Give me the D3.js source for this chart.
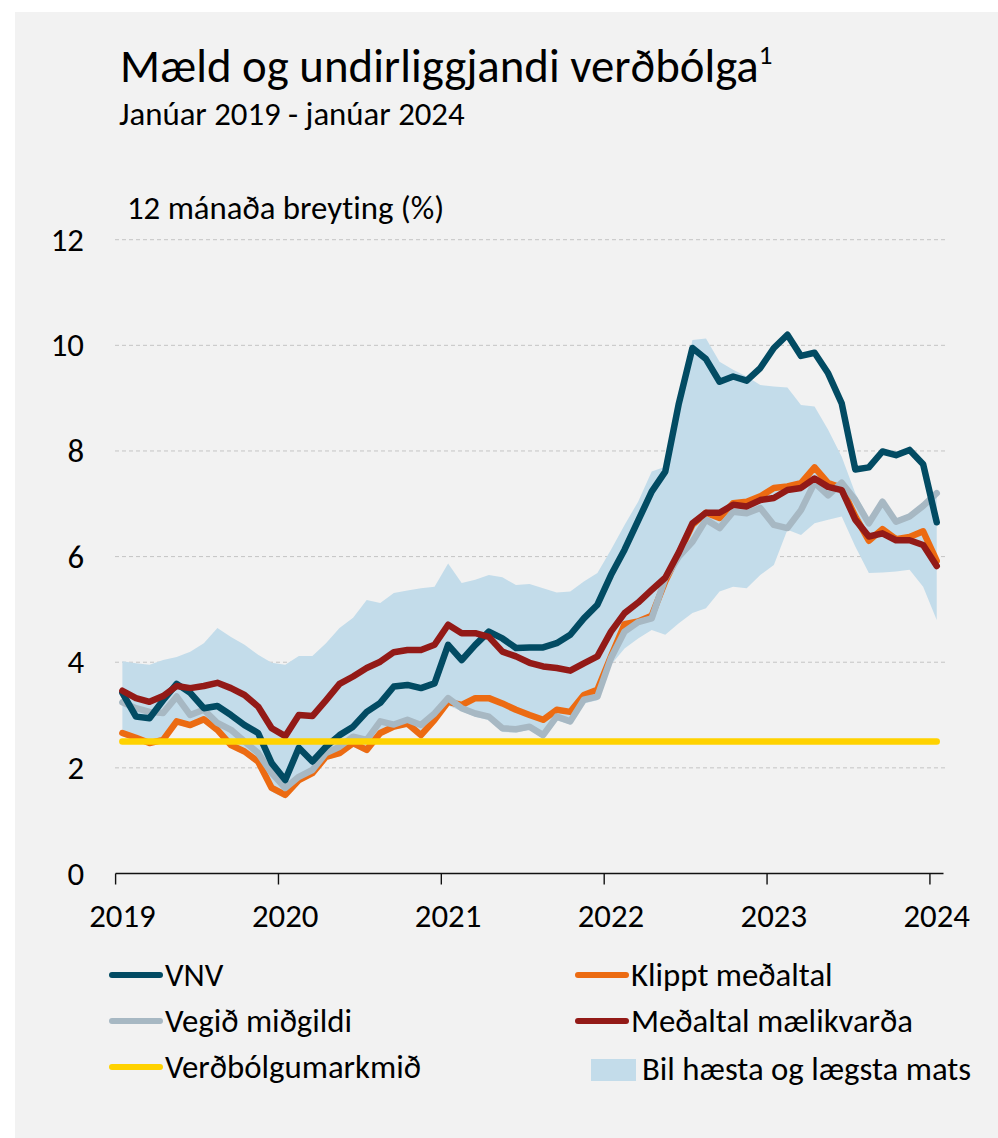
<!DOCTYPE html>
<html>
<head>
<meta charset="utf-8">
<script src="https://cdn.jsdelivr.net/npm/d3@7"></script>
<style>
  body { margin: 0; background: #ffffff; }
  svg { display: block; font-family: Carlito, Lato, sans-serif; font-variant-ligatures: none; }
</style>
</head>
<body>
<div id="chart"></div>
<script>
// monthly values, Jan 2019 - Jan 2024 (12 month change, %)
var months = d3.timeMonth.range(new Date(2019, 0, 1), new Date(2024, 1, 1)).map(function (d) {
    return d3.timeFormat("%Y-%m")(d);
});
var yearLabels = ["2019", "2020", "2021", "2022", "2023", "2024"];
var yTicks = [0, 2, 4, 6, 8, 10, 12];
var target = 2.5;

var vnv = [3.42, 2.97, 2.94, 3.28, 3.59, 3.42, 3.13, 3.17, 3.0, 2.81, 2.66, 2.09, 1.77, 2.38, 2.12, 2.40, 2.62, 2.78, 3.06, 3.23, 3.54,
    3.57, 3.51, 3.60, 4.33, 4.04, 4.33, 4.58, 4.45, 4.27, 4.28, 4.28, 4.36, 4.52, 4.83, 5.09, 5.65, 6.13, 6.68, 7.23, 7.61,
    8.9, 9.95, 9.74, 9.31, 9.41, 9.33, 9.57, 9.95, 10.2, 9.8, 9.86, 9.47, 8.9, 7.65, 7.69, 7.99, 7.92, 8.02, 7.75, 6.65];

var klippt = [2.66, 2.57, 2.47, 2.53, 2.88, 2.81, 2.92, 2.72, 2.43, 2.31, 2.12, 1.62, 1.49, 1.77, 1.9, 2.21, 2.28, 2.47, 2.34, 2.66, 2.78,
    2.84, 2.62, 2.91, 3.25, 3.19, 3.32, 3.32, 3.22, 3.10, 3.0, 2.91, 3.10, 3.06, 3.38, 3.48, 4.11, 4.72, 4.77, 4.88, 5.53,
    6.06, 6.6, 6.83, 6.73, 7.01, 7.04, 7.14, 7.30, 7.33, 7.39, 7.69, 7.39, 7.30, 6.76, 6.30, 6.52, 6.33, 6.37, 6.48, 5.92];

var vegid = [3.24, 3.13, 3.06, 3.04, 3.35, 3.0, 3.1, 2.85, 2.72, 2.5, 2.28, 1.9, 1.62, 1.83, 1.96, 2.28, 2.40, 2.59, 2.53, 2.88, 2.82,
    2.91, 2.81, 3.03, 3.32, 3.13, 3.03, 2.97, 2.75, 2.73, 2.78, 2.62, 2.97, 2.88, 3.29, 3.35, 4.08, 4.58, 4.76, 4.83, 5.59,
    6.0, 6.28, 6.70, 6.54, 6.85, 6.82, 6.92, 6.60, 6.54, 6.88, 7.40, 7.16, 7.40, 7.07, 6.63, 7.04, 6.66, 6.76, 6.96, 7.20];

var medaltal = [3.46, 3.32, 3.25, 3.36, 3.55, 3.51, 3.55, 3.61, 3.51, 3.38, 3.16, 2.75, 2.6, 3.0, 2.98, 3.28, 3.59, 3.73, 3.89, 4.01, 4.19,
    4.23, 4.23, 4.33, 4.71, 4.55, 4.55, 4.48, 4.2, 4.11, 3.99, 3.92, 3.89, 3.84, 3.98, 4.11, 4.58, 4.93, 5.13, 5.37, 5.6,
    6.08, 6.63, 6.83, 6.83, 6.98, 6.95, 7.07, 7.11, 7.26, 7.30, 7.48, 7.32, 7.26, 6.70, 6.38, 6.44, 6.31, 6.31, 6.22, 5.82];

var bandHigh = [4.02, 3.98, 3.95, 4.04, 4.1, 4.2, 4.36, 4.65, 4.48, 4.33, 4.14, 3.99, 3.95, 4.12, 4.12, 4.36, 4.65, 4.84, 5.18, 5.12, 5.31,
    5.36, 5.40, 5.43, 5.87, 5.50, 5.56, 5.65, 5.61, 5.46, 5.48, 5.40, 5.32, 5.34, 5.53, 5.69, 6.13, 6.6, 7.04, 7.61, 7.70,
    8.88, 10.1, 10.13, 9.69, 9.54, 9.41, 9.25, 9.22, 9.2, 8.87, 8.84, 8.40, 7.89, 7.2, 6.72, 7.08, 6.72, 6.8, 7.0, 7.24];

var bandLow = [2.6, 2.52, 2.42, 2.48, 2.82, 2.75, 2.85, 2.65, 2.38, 2.25, 2.05, 1.55, 1.42, 1.7, 1.85, 2.15, 2.22, 2.4, 2.28, 2.6, 2.72,
    2.78, 2.56, 2.85, 3.18, 3.07, 2.97, 2.9, 2.68, 2.67, 2.72, 2.55, 2.9, 2.82, 3.22, 3.28, 3.95, 4.26, 4.45, 4.61, 4.52,
    4.74, 4.93, 5.02, 5.34, 5.43, 5.40, 5.65, 5.84, 6.51, 6.41, 6.63, 6.70, 6.76, 6.19, 5.69, 5.70, 5.72, 5.75, 5.43, 4.80];

var colors = {
    vnv: "#024b63",
    klippt: "#ec6b12",
    vegid: "#a7b8c3",
    medaltal: "#931a17",
    target: "#ffd200",
    band: "#c3dcea"
};

var width = 998, height = 1138;
var fontSize = 32.8;

var svg = d3.select("#chart").append("svg")
    .attr("width", width)
    .attr("height", height);

svg.append("rect")
    .attr("x", 15).attr("y", 12)
    .attr("width", width - 15).attr("height", height - 12)
    .attr("fill", "#f2f2f2");

var x = d3.scaleBand().domain(months).range([115.6, 943.5]).padding(0);
var y = d3.scaleLinear().domain([0, 12]).range([873.5, 239.7]);
var cx = function (i) { return x(months[i]) + x.bandwidth() / 2; };

// titles
var title = svg.append("text")
    .attr("x", 120).attr("y", 82)
    .attr("font-size", 46.8).attr("fill", "#000")
    .text("Mæld og undirliggjandi verðbólga");
title.append("tspan")
    .attr("dy", -18).attr("font-size", 27)
    .text("1");

svg.append("text")
    .attr("x", 119).attr("y", 125)
    .attr("font-size", fontSize).attr("fill", "#000")
    .text("Janúar 2019 - janúar 2024");

svg.append("text")
    .attr("x", 127).attr("y", 219)
    .attr("font-size", fontSize).attr("fill", "#000")
    .text("12 mánaða breyting (%)");

// grid
svg.append("g").selectAll("line")
    .data(yTicks.filter(function (d) { return d > 0; }))
    .enter().append("line")
    .attr("x1", 115).attr("x2", 945)
    .attr("y1", function (d) { return y(d); })
    .attr("y2", function (d) { return y(d); })
    .attr("stroke", "#c4c4c4")
    .attr("stroke-width", 1)
    .attr("stroke-dasharray", "4,3");

// y labels
var yAxis = d3.axisLeft(y).tickValues(yTicks).tickSize(0).tickPadding(0);
var gy = svg.append("g").attr("transform", "translate(84,0)").call(yAxis);
gy.select(".domain").remove();
gy.selectAll("text")
    .attr("font-family", "Carlito, Lato, sans-serif")
    .attr("font-size", fontSize).attr("fill", "#000");

// band (highest / lowest estimate)
var area = d3.area()
    .x(function (d, i) { return cx(i); })
    .y0(function (d, i) { return y(bandLow[i]); })
    .y1(function (d) { return y(d); });

svg.append("path")
    .datum(bandHigh)
    .attr("d", area)
    .attr("fill", colors.band);

// x axis
var januaries = months.filter(function (m) { return m.slice(5) === "01"; });

svg.append("line")
    .attr("x1", x.range()[0]).attr("x2", x.range()[1])
    .attr("y1", y(0)).attr("y2", y(0))
    .attr("stroke", "#111").attr("stroke-width", 1.4);

svg.append("g").selectAll("line")
    .data(januaries)
    .enter().append("line")
    .attr("x1", function (d) { return x(d); })
    .attr("x2", function (d) { return x(d); })
    .attr("y1", y(0)).attr("y2", y(0) + 11)
    .attr("stroke", "#111").attr("stroke-width", 1.4);

var xAxis = d3.axisBottom(x).tickValues(januaries).tickSize(0).tickPadding(0)
    .tickFormat(function (d, i) { return yearLabels[i]; });
var gx = svg.append("g").attr("transform", "translate(0," + (y(0) + 30) + ")").call(xAxis);
gx.select(".domain").remove();
gx.selectAll("text")
    .attr("font-family", "Carlito, Lato, sans-serif")
    .attr("font-size", fontSize).attr("fill", "#000");

// lines
var line = d3.line()
    .x(function (d, i) { return cx(i); })
    .y(function (d) { return y(d); })
    .curve(d3.curveLinear);

var series = [
    { key: "klippt", values: klippt },
    { key: "vegid", values: vegid },
    { key: "vnv", values: vnv },
    { key: "medaltal", values: medaltal },
    { key: "target", values: months.map(function () { return target; }) }
];

svg.append("g").selectAll("path")
    .data(series)
    .enter().append("path")
    .attr("d", function (s) { return line(s.values); })
    .attr("fill", "none")
    .attr("stroke", function (s) { return colors[s.key]; })
    .attr("stroke-width", 6.5)
    .attr("stroke-linejoin", "round")
    .attr("stroke-linecap", "round");

// legend
var legendItems = [
    { key: "vnv", label: "VNV", x: 112, y: 975 },
    { key: "klippt", label: "Klippt meðaltal", x: 578, y: 975 },
    { key: "vegid", label: "Vegið miðgildi", x: 112, y: 1021 },
    { key: "medaltal", label: "Meðaltal mælikvarða", x: 578, y: 1021 },
    { key: "target", label: "Verðbólgumarkmið", x: 112, y: 1067 }
];

var legend = svg.append("g").selectAll("g")
    .data(legendItems)
    .enter().append("g")
    .attr("transform", function (d) { return "translate(" + d.x + "," + d.y + ")"; });

legend.append("line")
    .attr("x1", 0).attr("x2", 48)
    .attr("stroke", function (d) { return colors[d.key]; })
    .attr("stroke-width", 6)
    .attr("stroke-linecap", "round");

legend.append("text")
    .attr("x", 53).attr("y", 10.5)
    .attr("font-size", fontSize).attr("fill", "#000")
    .text(function (d) { return d.label; });

var bandLegend = svg.append("g").attr("transform", "translate(591,1059)");
bandLegend.append("rect")
    .attr("width", 45).attr("height", 22)
    .attr("fill", colors.band);
bandLegend.append("text")
    .attr("x", 51).attr("y", 21)
    .attr("font-size", fontSize).attr("fill", "#000")
    .text("Bil hæsta og lægsta mats");
</script>
</body>
</html>
